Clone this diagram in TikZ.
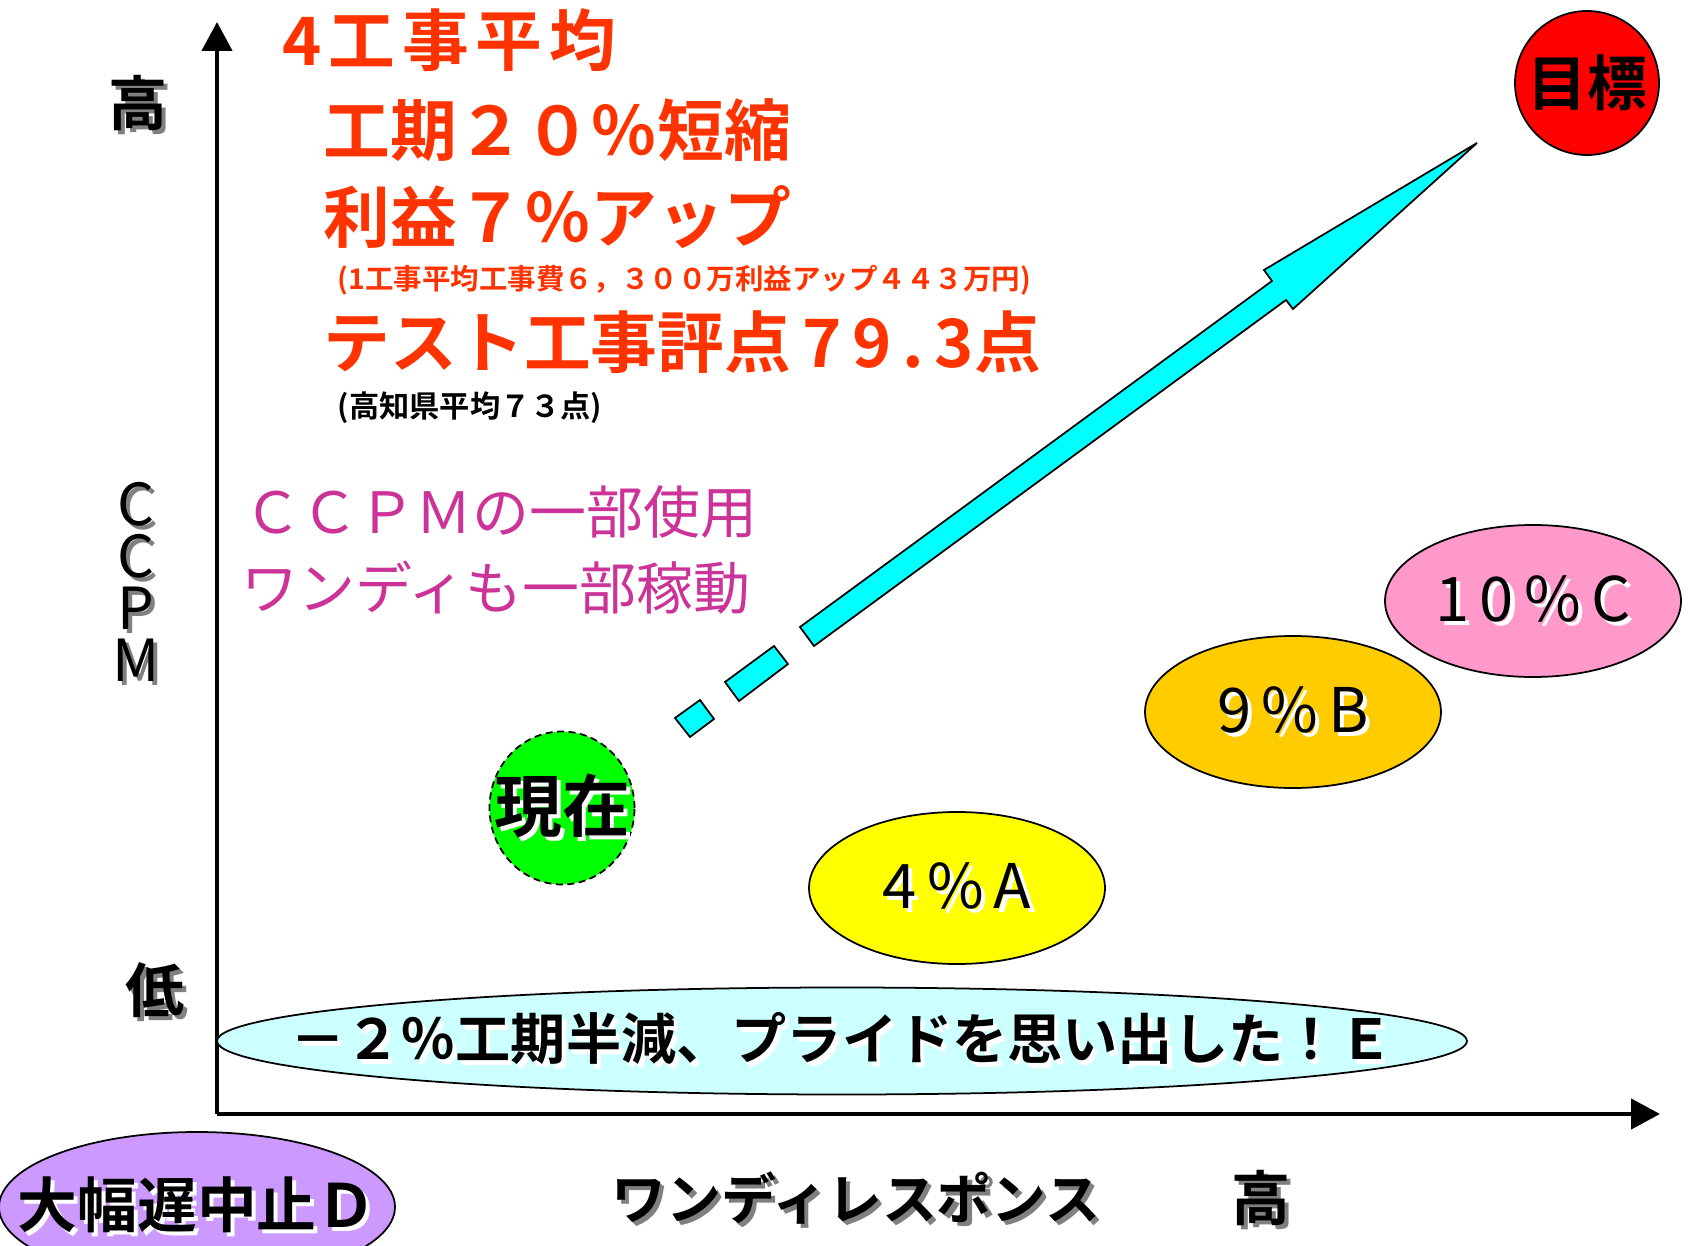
\documentclass[tikz,border=0pt]{standalone}
\usepackage{fontspec}
\setmainfont[BoldFont={Noto Sans CJK JP Bold}]{Noto Sans CJK JP}
\usetikzlibrary{shapes.geometric,arrows.meta}
\definecolor{redtxt}{RGB}{255,51,0}
\definecolor{pinktxt}{RGB}{204,51,153}
\definecolor{arrowcyan}{RGB}{0,255,255}
\definecolor{fillA}{RGB}{255,255,0}
\definecolor{fillB}{RGB}{255,204,0}
\definecolor{fillC}{RGB}{255,153,204}
\definecolor{fillD}{RGB}{204,153,255}
\definecolor{fillE}{RGB}{204,255,255}
\definecolor{fillnow}{RGB}{0,255,0}
\definecolor{fillgoal}{RGB}{255,0,0}
% text with a small drop shadow, no width of its own
\newcommand{\shtxt}[2]{\makebox[0pt]{\rlap{\hspace{1.2pt}\raisebox{-1.2pt}{\color{#1}#2}}#2}}
\tikzset{
  axis/.style={line width=0.45mm,-{Triangle[length=2.9mm,width=3mm]}},
  blob/.style={ellipse,draw=black,line width=0.5pt,inner sep=0pt},
  bigred/.style={anchor=west,inner sep=0pt,text=redtxt,font=\fontsize{19}{22}\selectfont\bfseries},
  smallred/.style={anchor=west,inner sep=0pt,text=redtxt,font=\fontsize{8.1}{10}\selectfont\bfseries},
  pinkline/.style={anchor=west,inner sep=0pt,text=pinktxt,font=\fontsize{16.2}{19}\selectfont},
  axlbl/.style={inner sep=0pt,font=\fontsize{16.8}{20}\selectfont\bfseries},
  arrowpart/.style={fill=arrowcyan,draw=black,line width=0.5pt,line join=miter}
}

\begin{document}
\begin{tikzpicture}[x=0.1mm,y=-0.1mm]
\useasboundingbox (0,0) rectangle (1704,1246);
% the axes
\coordinate (o) at (217,1114);
\draw[axis] (o) -- (217,22);
\draw[axis] (o) -- (1660,1114);
\node[axlbl] (yhi) at (138,105) {\shtxt{gray}{高}};
\node[axlbl] (ylo) at (155,992) {\shtxt{gray}{低}};
\node[axlbl,align=center,font=\fontsize{16.5}{14.8}\selectfont] (ylab) at (136,584)
  {\shtxt{gray}{C}\\\shtxt{gray}{C}\\\shtxt{gray}{P}\\\shtxt{gray}{M}};
\node[axlbl,font=\fontsize{15.6}{18}\selectfont\bfseries] (xlab) at (856,1200) {\shtxt{gray}{ワンディレスポンス}};
\node[axlbl] (xhi) at (1261,1200) {\shtxt{gray}{高}};

% results up in the corner
\node[bigred] (l1) at (282,40) {\addfontfeature{LetterSpace=10}4工事平均};
\node[bigred] (l2) at (323,130) {工期２０％短縮};
\node[bigred] (l3) at (323,217) {利益７％アップ};
\node[smallred] (l4) at (337,280) {(1工事平均工事費６，３００万利益アップ４４３万円)};
\node[bigred] (l5) at (323,342) {テスト工事評点\,{\addfontfeature{LetterSpace=16}79.3}点};
\node[smallred,text=black,font=\fontsize{8.6}{10}\selectfont\bfseries] (l6) at (337,408) {(高知県平均７３点)};
\node[pinkline] (m1) at (244,512) {ＣＣＰＭの一部使用};
\node[pinkline] (m2) at (241,588) {ワンディも一部稼動};

% the big arrow and its dashes
\filldraw[arrowpart] (675,718)--(700,700)--(714,719)--(690,737)--cycle;
\filldraw[arrowpart] (725,682)--(774,646)--(788,664)--(739,701)--cycle;
\filldraw[arrowpart] (800,627)--(1272,281)--(1264,270)--(1477,143)
  --(1293,309)--(1286,300)--(814,646)--cycle;

% the firms
\node[blob,fill=fillE,minimum width=125mm,minimum height=10.7mm,font=\fontsize{15.7}{18}\selectfont\bfseries]
  (firmE) at (842,1041) {\shtxt{white}{－２％工期半減、プライドを思い出した！Ｅ}};
\node[blob,fill=fillA,minimum width=29.6mm,minimum height=15.2mm,font=\fontsize{17.5}{20}\selectfont]
  (firmA) at (957,888) {\shtxt{white}{4\,\%\,A}};
\node[blob,fill=fillB,minimum width=29.6mm,minimum height=15.2mm,font=\fontsize{17.5}{20}\selectfont]
  (firmB) at (1293,712) {\shtxt{white}{9\,\%\,B}};
\node[blob,fill=fillC,minimum width=29.6mm,minimum height=15.2mm,font=\fontsize{17.5}{20}\selectfont]
  (firmC) at (1533,601) {\shtxt{white}{1\,0\,\%\,C}};
\node[blob,fill=fillD,minimum width=39.6mm,minimum height=15mm,font=\fontsize{17}{20}\selectfont\bfseries]
  (firmD) at (197,1207) {\shtxt{white}{大幅遅中止Ｄ}};
\node[blob,fill=fillnow,dash pattern=on 0.7mm off 0.45mm,minimum width=14.5mm,minimum height=15.3mm,
  font=\fontsize{19.3}{22}\selectfont\bfseries] (now) at (562,808) {\shtxt{white}{現在}};
\node[blob,fill=fillgoal,minimum width=14.4mm,minimum height=14.4mm,font=\fontsize{17}{20}\selectfont\bfseries]
  (goal) at (1587,83) {\makebox[0pt]{目標}};
\end{tikzpicture}
\end{document}
